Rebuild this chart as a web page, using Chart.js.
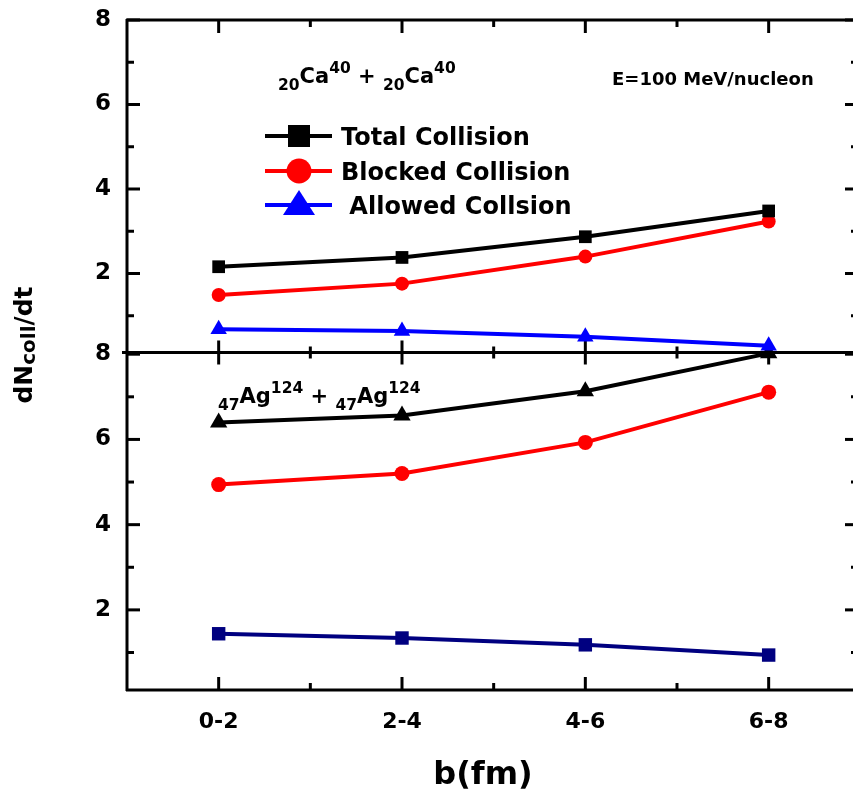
<!DOCTYPE html>
<html>
<head>
<meta charset="utf-8">
<script src="https://cdn.jsdelivr.net/npm/chart.js@4.4.0/dist/chart.umd.min.js"></script>
<style>
  html, body { margin: 0; padding: 0; background: #fff; }
  #wrap { width: 853px; height: 796px; }
</style>
</head>
<body>
<div id="wrap"><canvas id="chart" width="853" height="796"></canvas></div>
<script>
const categories = ["0-2", "2-4", "4-6", "6-8"];

// upper panel: 20Ca40 + 20Ca40
const caTotal = [2.16, 2.38, 2.87, 3.48];
const caBlocked = [1.49, 1.76, 2.40, 3.23];
const caAllowed = [0.68, 0.64, 0.50, 0.29];

// lower panel: 47Ag124 + 47Ag124
const agTotal = [6.40, 6.56, 7.13, 8.02];
const agBlocked = [4.94, 5.20, 5.93, 7.11];
const agAllowed = [1.44, 1.34, 1.18, 0.94];

const yTicks = [2, 4, 6, 8];
const yMinor = [1, 3, 5, 7];
const xTicks = [0, 1, 2, 3];
const xMinor = [0.5, 1.5, 2.5];

const seriesNames = ["Total Collision", "Blocked Collision", " Allowed Collsion"];

const FONT = "DejaVu Sans";

const pts = arr => arr.map((v, i) => ({ x: i, y: v }));

function series(data, axis, color, style, radius) {
  return {
    data: pts(data),
    yAxisID: axis,
    borderColor: color,
    backgroundColor: color,
    borderWidth: 4,
    pointStyle: style,
    pointRadius: radius,
    pointHoverRadius: radius,
    pointBorderWidth: 0,
    tension: 0,
    clip: false
  };
}

function line(ctx, x1, y1, x2, y2) {
  ctx.beginPath();
  ctx.moveTo(x1, y1);
  ctx.lineTo(x2, y2);
  ctx.stroke();
}

const framePlugin = {
  id: "frame",
  beforeDatasetsDraw(chart) {
    const { ctx, chartArea: a, scales } = chart;
    const x = scales.x, yc = scales.yCa, ya = scales.yAg;
    const mid = yc.bottom;
    const W = chart.width;
    ctx.save();
    ctx.strokeStyle = "#000";
    ctx.lineWidth = 3;
    ctx.lineCap = "butt";
    // box lines (the right frame edge sits just outside the picture)
    line(ctx, a.left, a.top - 1, a.left, a.bottom + 1);
    line(ctx, a.left - 1, a.top, W, a.top);
    line(ctx, a.left - 5, mid, W, mid);
    line(ctx, a.left - 1, a.bottom, W, a.bottom);

    // x ticks
    xTicks.forEach(v => {
      const px = x.getPixelForValue(v);
      line(ctx, px, a.bottom, px, a.bottom - 13);
      line(ctx, px, mid - 12, px, mid + 12);
      line(ctx, px, a.top, px, a.top + 13);
    });
    xMinor.forEach(v => {
      const px = x.getPixelForValue(v);
      line(ctx, px, a.bottom, px, a.bottom - 7);
      line(ctx, px, mid - 6, px, mid + 6);
      line(ctx, px, a.top, px, a.top + 7);
    });

    // y ticks on both panels
    [yc, ya].forEach(s => {
      yTicks.forEach(v => {
        const py = s.getPixelForValue(v);
        line(ctx, a.left, py, a.left + 13, py);
        line(ctx, W, py, W - 8, py);
      });
      yMinor.forEach(v => {
        const py = s.getPixelForValue(v);
        line(ctx, a.left, py, a.left + 7, py);
        line(ctx, W, py, W - 2, py);
      });
    });
    ctx.restore();
  },
  afterDraw(chart) {
    const { ctx } = chart;
    ctx.save();
    ctx.fillStyle = "#000";
    ctx.textBaseline = "alphabetic";

    // y axis title with subscript
    ctx.save();
    ctx.translate(32, 345);
    ctx.rotate(-Math.PI / 2);
    const big = "bold 25px '" + FONT + "'";
    const small = "bold 20px '" + FONT + "'";
    ctx.font = big;
    const w1 = ctx.measureText("dN").width;
    const w3 = ctx.measureText("/dt").width;
    ctx.font = small;
    const w2 = ctx.measureText("coll").width;
    let tx = -(w1 + w2 + w3) / 2;
    ctx.font = big;
    ctx.fillText("dN", tx, 0);
    tx += w1;
    ctx.font = small;
    ctx.fillText("coll", tx, 3);
    tx += w2;
    ctx.font = big;
    ctx.fillText("/dt", tx, 0);
    ctx.restore();

    // x axis title
    ctx.font = "bold 32px '" + FONT + "'";
    ctx.textAlign = "center";
    ctx.fillText("b(fm)", 483, 784);
    ctx.textAlign = "left";

    // reaction labels
    function nuclide(parts, x0, base) {
      let cx = x0;
      parts.forEach(([txt, kind]) => {
        const size = kind === "n" ? 21 : 15.5;
        const dy = kind === "sub" ? 6.5 : kind === "sup" ? -10.5 : 0;
        ctx.font = "bold " + size + "px '" + FONT + "'";
        ctx.fillText(txt, cx, base + dy);
        cx += ctx.measureText(txt).width;
      });
    }
    nuclide([["20", "sub"], ["Ca", "n"], ["40", "sup"], [" + ", "n"], ["20", "sub"], ["Ca", "n"], ["40", "sup"]], 278, 83);
    nuclide([["47", "sub"], ["Ag", "n"], ["124", "sup"], [" + ", "n"], ["47", "sub"], ["Ag", "n"], ["124", "sup"]], 218, 403);

    ctx.font = "bold 18px '" + FONT + "'";
    ctx.fillText("E=100 MeV/nucleon", 612, 85);

    // legend for upper panel
    const rows = [136, 171, 205];
    const colors = ["#000000", "#ff0000", "#0000ff"];
    rows.forEach((ry, i) => {
      ctx.strokeStyle = colors[i];
      ctx.fillStyle = colors[i];
      ctx.lineWidth = 4;
      line(ctx, 265, ry, 332, ry);
      ctx.beginPath();
      if (i === 0) {
        ctx.rect(288, ry - 11, 22, 22);
      } else if (i === 1) {
        ctx.arc(299, ry, 12.5, 0, Math.PI * 2);
      } else {
        ctx.moveTo(299, ry - 15);
        ctx.lineTo(283, ry + 10);
        ctx.lineTo(315, ry + 10);
        ctx.closePath();
      }
      ctx.fill();
      ctx.fillStyle = "#000";
      ctx.font = "bold 24px '" + FONT + "'";
      ctx.fillText(seriesNames[i], 341, ry + 9);
    });
    ctx.restore();
  }
};

const yAxis = (min, max, weight) => ({
  type: "linear",
  position: "left",
  stack: "panels",
  stackWeight: weight,
  min: min,
  max: max,
  grid: { display: false, drawTicks: false },
  border: { display: false },
  afterBuildTicks: s => { s.ticks = yTicks.map(v => ({ value: v })); },
  afterFit: s => { s.width = 127; s.paddingTop = 0; s.paddingBottom = 0; },
  ticks: {
    padding: 16,
    color: "#000",
    font: { family: FONT, weight: "bold", size: 23 },
    callback: v => String(v)
  }
});

new Chart(document.getElementById("chart"), {
  type: "line",
  data: {
    datasets: [
      series(caTotal, "yCa", "#000000", "rect", 9),
      series(caBlocked, "yCa", "#ff0000", "circle", 7),
      series(caAllowed, "yCa", "#0000ff", "triangle", 9.5),
      series(agTotal, "yAg", "#000000", "triangle", 10),
      series(agBlocked, "yAg", "#ff0000", "circle", 7.5),
      series(agAllowed, "yAg", "#000080", "rect", 9.5)
    ]
  },
  options: {
    responsive: false,
    animation: false,
    events: [],
    layout: { autoPadding: false, padding: { top: 20, right: 0, left: 0, bottom: 0 } },
    plugins: { legend: { display: false }, tooltip: { enabled: false } },
    scales: {
      x: {
        type: "linear",
        min: -0.5,
        max: 3.46,
        grid: { display: false, drawTicks: false },
        border: { display: false },
        afterBuildTicks: s => { s.ticks = xTicks.map(v => ({ value: v })); },
        afterFit: s => { s.height = 106; s.paddingLeft = 0; s.paddingRight = 0; },
        ticks: {
          padding: 19,
          color: "#000",
          autoSkip: false,
          maxRotation: 0,
          font: { family: FONT, weight: "bold", size: 22 },
          callback: v => categories[v] ?? ""
        }
      },
      yAg: yAxis(0.12, 8.04, 337),
      yCa: yAxis(0.13, 8.0, 332)
    }
  },
  plugins: [framePlugin]
});
</script>
</body>
</html>
